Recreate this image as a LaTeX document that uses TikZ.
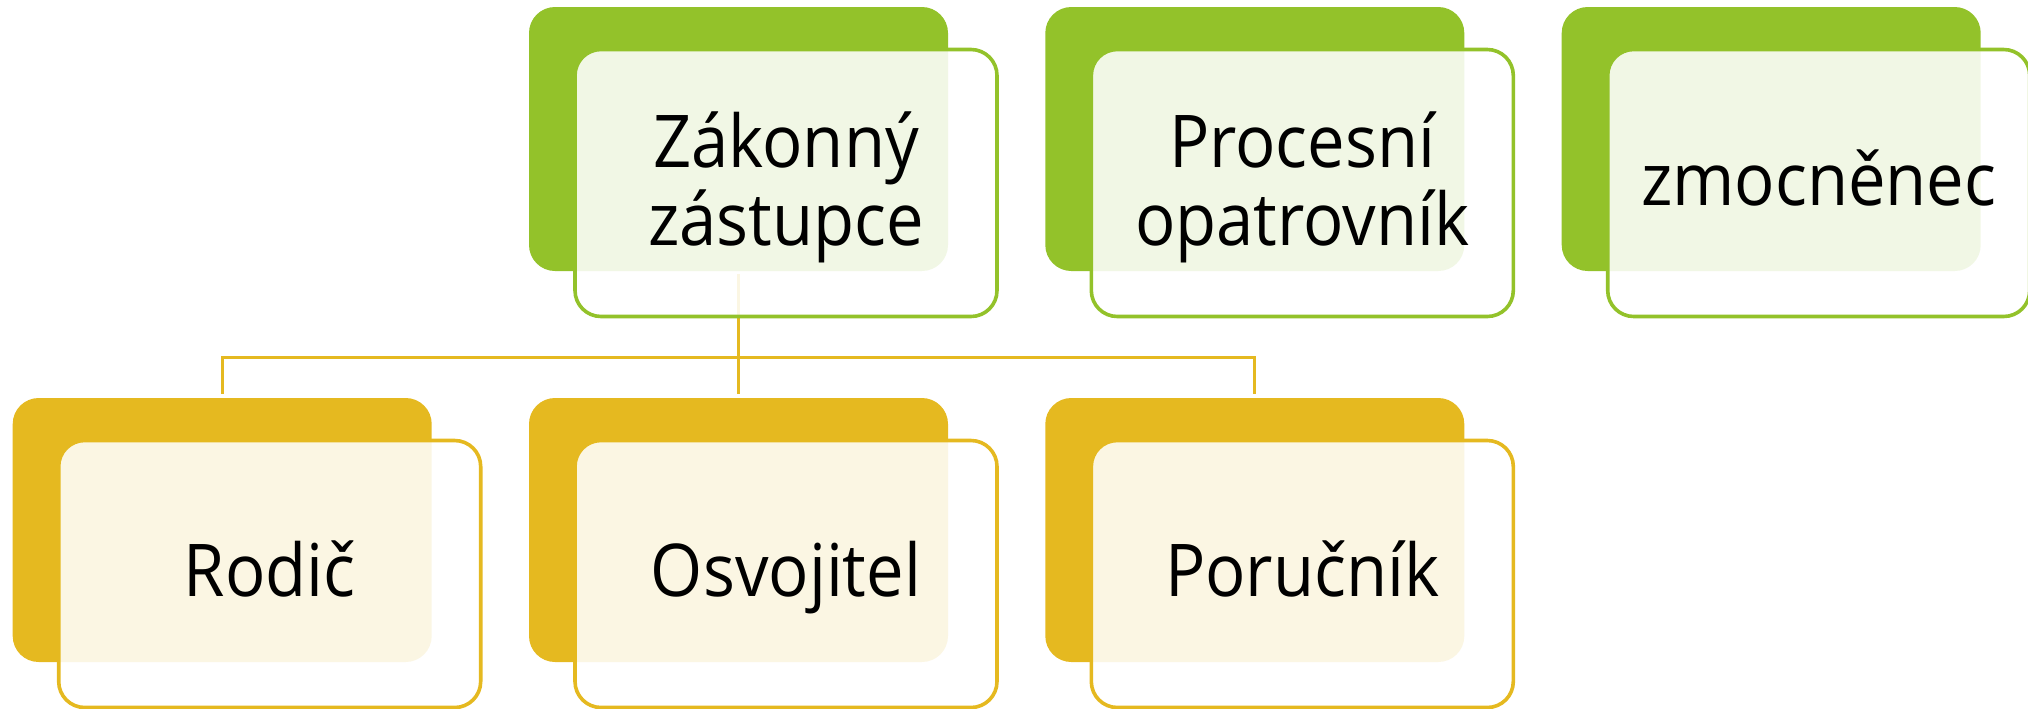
\documentclass[tikz,border=0pt]{standalone}
\usepackage{fontspec}
\setmainfont[FakeStretch=0.92]{Open Sans}
\definecolor{grn}{HTML}{93C22A}
\definecolor{ylw}{HTML}{E5B920}
\begin{document}
\begin{tikzpicture}[x=0.5pt,y=-0.5pt,
  back/.style={rectangle, rounded corners=13pt, minimum width=209.5pt, minimum height=132pt, inner sep=0pt, outer sep=0pt},
  front/.style={rectangle, rounded corners=13pt, minimum width=211pt, minimum height=133.5pt, inner sep=0pt, outer sep=0pt, line width=1.8pt, fill=white, fill opacity=0.88},
  lbl/.style={font=\fontsize{36.4pt}{38pt}\selectfont, anchor=base, inner sep=0pt, text=black},
  conn/.style={draw=ylw, line width=1.5pt}]
\useasboundingbox (0,0) rectangle (2028,708);
% back rectangles
\node[back, fill=grn] (zb) at (738.5,139) {};
\node[back, fill=grn] (pb) at (1254.8,139) {};
\node[back, fill=grn] (mb) at (1771.2,139) {};
\node[back, fill=ylw] (rb) at (222.2,530) {};
\node[back, fill=ylw] (ob) at (738.5,530) {};
\node[back, fill=ylw] (cb) at (1254.8,530) {};
% connectors
\coordinate (j) at (738.5,357);
\draw[conn, shorten <=1.5pt] (zb.south) -- (j);
\draw[conn, shorten >=2pt] (j) -| (rb.north);
\draw[conn, shorten >=2pt] (j) -| (ob.north);
\draw[conn, shorten >=2pt] (j) -| (cb.north);
% front rectangles
\node[front, draw=grn] (zf) at (786,183) {};
\node[front, draw=grn] (pf) at (1302.3,183) {};
\node[front, draw=grn] (mf) at (1818.7,183) {};
\node[front, draw=ylw] (rf) at (269.7,574) {};
\node[front, draw=ylw] (of) at (786,574) {};
\node[front, draw=ylw] (cf) at (1302.3,574) {};
% labels
\node[lbl] (zt) at (786,167) {\begin{tabular}[t]{@{}c@{}}Zákonný\\zástupce\end{tabular}};
\node[lbl] (pt) at (1302.3,167) {\begin{tabular}[t]{@{}c@{}}Procesní\\opatrovník\end{tabular}};
\node[lbl] (mt) at (1818.7,205) {zmocněnec};
\node[lbl] (rt) at (269.7,596) {Rodič};
\node[lbl] (ot) at (786,596) {Osvojitel};
\node[lbl] (ct) at (1302.3,596) {Poručník};
\end{tikzpicture}
\end{document}
